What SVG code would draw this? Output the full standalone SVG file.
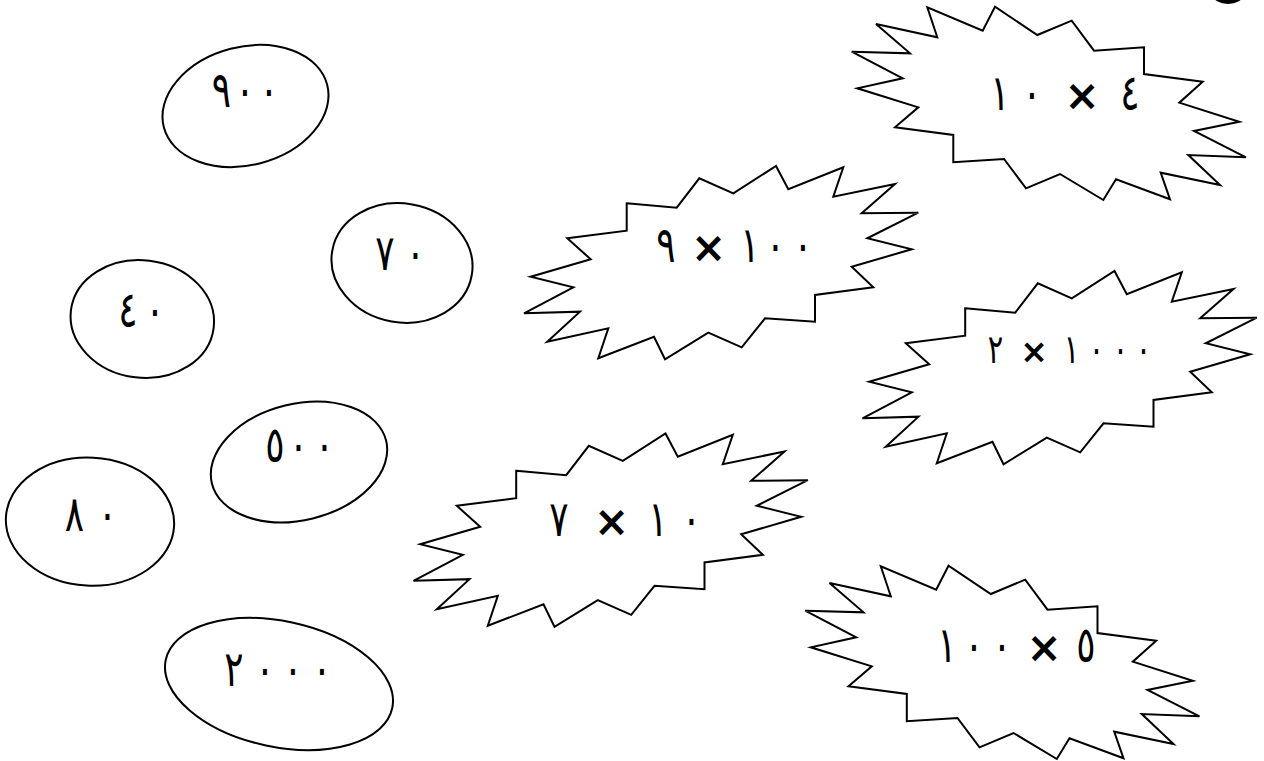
<svg xmlns="http://www.w3.org/2000/svg" xmlns:xlink="http://www.w3.org/1999/xlink" width="1264" height="761" viewBox="0 0 1264 761">
  <style>
    .shape { fill: #ffffff; stroke: #000000; stroke-width: 2; stroke-linejoin: miter; }
    .d { font-family: "DejaVu Sans", "Noto Sans", sans-serif; font-size: 50px; fill: #000000; text-anchor: middle; }
    .ds { font-size: 40px; }
    .x { font-family: "DejaVu Sans", sans-serif; font-weight: bold; font-size: 42px; fill: #000000; text-anchor: middle; }
    .xs { font-size: 33px; }
  </style>
  <defs>
    <!-- starburst outline, upright variant -->
    <path id="burstA" d="M626.7,203.3 L676.7,207.7 L699.3,178.3 L733.3,193.3 L776,166 L788.3,189.3 L843.3,167.3 L833.3,196.7 L895,184 L861.7,213.3 L918.3,212.7 L867.3,238.3 L911.7,249.3 L851.7,266.7 L873.3,287.3 L815,295 L815,321.7 L765,318.3 L741.7,347.3 L708.3,332.7 L665,359.3 L654,336.7 L598.3,358.3 L608.3,328.3 L547.3,341.7 L580,311.7 L524,313.3 L573.3,287.3 L530.7,276.7 L590.7,259.3 L567.3,238.3 L626.7,230.7 Z"/>
    <!-- starburst outline, mirrored variant -->
    <path id="burstB" d="M953.3,135 L953.3,162.3 L1004,159 L1026,188.3 L1060,174 L1103.3,200 L1116,179.3 L1170,199.3 L1160.7,172.7 L1220,185 L1188.3,155 L1246,157.3 L1194,131 L1239.3,121.7 L1179.3,102.7 L1202.7,81.7 L1144,74 L1144,47.3 L1094,50.7 L1071.7,20.7 L1037.3,35 L995,6.7 L982.7,30.7 L927.3,7.3 L937.3,37.3 L876,24 L910,53.3 L851.7,51.7 L902.7,78.3 L857.3,88.3 L918.3,107.3 L895,127.3 Z"/>
  </defs>

  <rect x="0" y="0" width="1264" height="761" fill="#ffffff"/>

  <!-- corner mark, mostly off the page -->
  <ellipse cx="1228" cy="-5" rx="15" ry="9" fill="#000000"/>

  <g id="connectors"/>

  <!-- answer ellipses; each digit is set on its own, narrowed horizontally -->
  <g id="e900">
    <ellipse class="shape" cx="245.5" cy="106" rx="84.4" ry="59.1" transform="rotate(-14.6 245.5 106)"/>
    <text class="d" transform="translate(221.5 107) scale(0.72 1)">٩</text>
    <text class="d" transform="translate(245 107) scale(0.72 1)">٠</text>
    <text class="d" transform="translate(269 107) scale(0.72 1)">٠</text>
  </g>
  <g id="e70">
    <ellipse class="shape" cx="402" cy="263" rx="70.8" ry="59.4" transform="rotate(10 402 263)"/>
    <text class="d" transform="translate(385 270) scale(0.72 1)">٧</text>
    <text class="d" transform="translate(415.5 270) scale(0.72 1)">٠</text>
  </g>
  <g id="e40">
    <ellipse class="shape" cx="142.3" cy="319" rx="71.9" ry="58.8" transform="rotate(7 142.3 319)"/>
    <text class="d" transform="translate(128 327) scale(0.72 1)">٤</text>
    <text class="d" transform="translate(155 327) scale(0.72 1)">٠</text>
  </g>
  <g id="e500">
    <ellipse class="shape" cx="299" cy="462" rx="89.7" ry="58.1" transform="rotate(-13.8 299 462)"/>
    <text class="d" transform="translate(275 462) scale(0.72 1)">٥</text>
    <text class="d" transform="translate(298.5 462) scale(0.72 1)">٠</text>
    <text class="d" transform="translate(324.5 462) scale(0.72 1)">٠</text>
  </g>
  <g id="e80">
    <ellipse class="shape" cx="90" cy="521.7" rx="84.2" ry="64" transform="rotate(3 90 521.7)"/>
    <text class="d" transform="translate(74.5 531) scale(0.72 1)">٨</text>
    <text class="d" transform="translate(107.5 531) scale(0.72 1)">٠</text>
  </g>
  <g id="e2000">
    <ellipse class="shape" cx="279" cy="684" rx="115.8" ry="62.8" transform="rotate(12 279 684)"/>
    <text class="d" transform="translate(234 686) scale(0.72 1)">٢</text>
    <text class="d" transform="translate(265 686) scale(0.72 1)">٠</text>
    <text class="d" transform="translate(293 686) scale(0.72 1)">٠</text>
    <text class="d" transform="translate(322 686) scale(0.72 1)">٠</text>
  </g>

  <!-- product starbursts -->
  <g id="b10x4">
    <use xlink:href="#burstB" class="shape"/>
    <text class="d" transform="translate(1000 110) scale(0.72 1)">١</text>
    <text class="d" transform="translate(1032 110) scale(0.72 1)">٠</text>
    <text class="x" x="1082" y="110">×</text>
    <text class="d" transform="translate(1130 110) scale(0.72 1)">٤</text>
  </g>
  <g id="b9x100">
    <use xlink:href="#burstA" class="shape"/>
    <text class="d" transform="translate(666 262) scale(0.72 1)">٩</text>
    <text class="x" x="708.5" y="262">×</text>
    <text class="d" transform="translate(750 262) scale(0.72 1)">١</text>
    <text class="d" transform="translate(775.5 262) scale(0.72 1)">٠</text>
    <text class="d" transform="translate(803 262) scale(0.72 1)">٠</text>
  </g>
  <g id="b2x1000">
    <use xlink:href="#burstA" class="shape" transform="translate(338.5 105)"/>
    <text class="d ds" transform="translate(995.5 363) scale(0.72 1)">٢</text>
    <text class="x xs" x="1034" y="363">×</text>
    <text class="d ds" transform="translate(1071.5 363) scale(0.72 1)">١</text>
    <text class="d ds" transform="translate(1096.5 363) scale(0.72 1)">٠</text>
    <text class="d ds" transform="translate(1120.5 363) scale(0.72 1)">٠</text>
    <text class="d ds" transform="translate(1143.5 363) scale(0.72 1)">٠</text>
  </g>
  <g id="b7x10">
    <use xlink:href="#burstA" class="shape" transform="translate(-110.5 267.5)"/>
    <text class="d" transform="translate(559 536) scale(0.72 1)">٧</text>
    <text class="x" x="611.5" y="536">×</text>
    <text class="d" transform="translate(658 536) scale(0.72 1)">١</text>
    <text class="d" transform="translate(691.5 536) scale(0.72 1)">٠</text>
  </g>
  <g id="b100x5">
    <use xlink:href="#burstB" class="shape" transform="translate(-46.5 559)"/>
    <text class="d" transform="translate(947 662) scale(0.72 1)">١</text>
    <text class="d" transform="translate(974 662) scale(0.72 1)">٠</text>
    <text class="d" transform="translate(1002 662) scale(0.72 1)">٠</text>
    <text class="x" x="1044" y="662">×</text>
    <text class="d" transform="translate(1086 662) scale(0.72 1)">٥</text>
  </g>
</svg>
